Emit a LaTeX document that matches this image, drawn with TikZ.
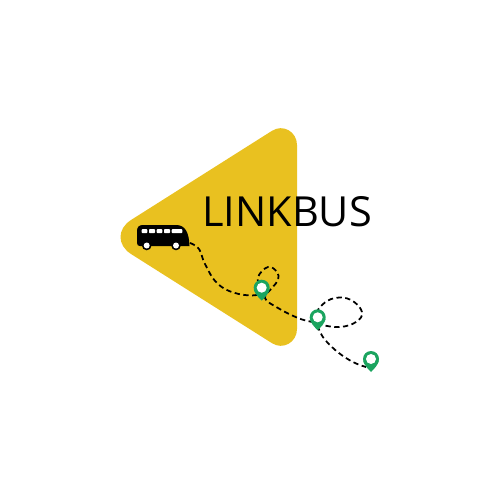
\documentclass[tikz,border=0pt]{standalone}
\usepackage{fontspec}
\setmainfont{Open Sans}
\definecolor{logoyellow}{HTML}{E9C120}
\definecolor{pingreen}{HTML}{1BA45F}
\tikzset{
	route/.style={black,line width=1pt,dash pattern=on 3pt off 2pt},
	pin/.style={fill=pingreen,draw=none},
	window/.style={fill=white,rounded corners=0.5pt}
}
\begin{document}
\begin{tikzpicture}[x=0.02cm,y=-0.02cm,line join=round,line cap=butt]
	\useasboundingbox (0,0) rectangle (500,500);
	% triangle
	\fill[logoyellow]
	(297,145) .. controls (297,131.8) and (283,123.5) .. (271.7,131)
	-- (131,220) .. controls (117,229) and (117,245) .. (131,254)
	-- (271.7,343) .. controls (283,350.5) and (297,342.2) .. (297,329) -- cycle;
	\node[font=\fontsize{23.6}{24}\selectfont,inner sep=0pt] (title) at (287,212) {LINKBUS};
	% routes
	\draw[route] plot[smooth,tension=0.7] coordinates {
		(190,243) (199,249) (205,264) (217,283) (235,293) (257,295)
		(260,288) (258,277) (268,267) (277,272) (278,280) (272,288)
		(265,298) (278,308) (298,318) (312,322)
		(322,325) (340,327) (356,322) (362,312) (351,300) (335,298) (322,305) (317,315)
		(320,332) (333,348) (351,361) (366,367)};
	% bus
	\fill[black] (137,231) .. controls (137,227) and (139,225) .. (143,225)
	-- (176,225) .. controls (185,225) and (189,232) .. (189.5,246)
	-- (140,246) .. controls (138,246) and (137,245) .. (137,243) -- cycle;
	\foreach \x/\w in {141.7/5.6,149/6,156.7/5.6,164/6,171.7/10.6}
	{
		\fill[window] (\x,229) rectangle ++(\w,4.2);
	}
	\foreach \x in {146.7,176}
	{
		\fill[black] (\x,245.5) circle (4.8);
		\fill[white] (\x,245.5) circle (3);
	}
	% pins
	\foreach \x/\y in {261.7/287.7,317.7/317.3,371/359}
	{
		\fill[pin] (\x-7.9,\y+1.5) .. controls (\x-7,\y+6) and (\x-3,\y+10) .. (\x,\y+13)
		.. controls (\x+3,\y+10) and (\x+7,\y+6) .. (\x+7.9,\y+1.5) -- cycle;
		\fill[pin] (\x,\y) circle (8);
		\fill[white] (\x,\y) circle (5);
	}
\end{tikzpicture}
\end{document}
